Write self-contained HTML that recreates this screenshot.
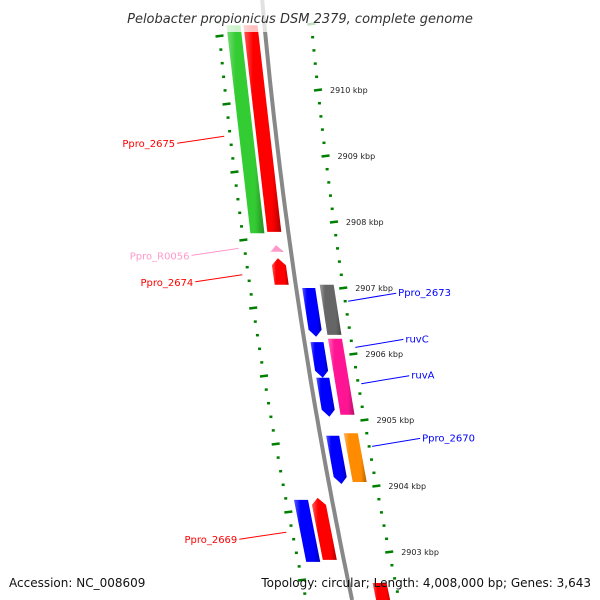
<!DOCTYPE html>
<html><head><meta charset="utf-8"><style>
body{margin:0;background:#fff;}
svg{display:block;font-family:"DejaVu Sans","Liberation Sans",sans-serif;}
</style></head><body>
<svg id="map" width="600" height="600" viewBox="0 0 600 600">
<defs>
<linearGradient id="shade" x1="0" x2="1" y1="0" y2="0">
<stop offset="0" stop-color="#fff" stop-opacity="0.35"/><stop offset="0.25" stop-color="#fff" stop-opacity="0"/>
<stop offset="0.75" stop-color="#000" stop-opacity="0"/><stop offset="1" stop-color="#000" stop-opacity="0.3"/>
</linearGradient>
</defs>
<g id="ticks"></g>
<g id="genes"></g>
<g id="labels"></g>
<rect x="0" y="0" width="600" height="32" fill="#fff" opacity="0.75"/>
<text x="300" y="23" text-anchor="middle" font-size="13" font-style="italic" fill="#333">Pelobacter propionicus DSM 2379, complete genome</text>
<text x="9" y="587" font-size="12" fill="#111">Accession: NC_008609</text>
<text x="591" y="587" text-anchor="end" font-size="12" fill="#111">Topology: circular; Length: 4,008,000 bp; Genes: 3,643</text>
</svg>
<script>
const geneNames=["g2675a","Ppro_2675","Ppro_R0056","Ppro_2674","b2673","Ppro_2673","ruvC_b","ruvA_b","ruvC","Ppro_2670b","Ppro_2670","Ppro_2669","r2669","rbot"];
const geneStart=[2910.98,2910.98,2907.65,2907.45,2907.0,2907.05,2906.18,2905.64,2906.23,2904.76,2904.8,2903.79,2903.82,2902.53];
const geneEnd=[2907.83,2907.85,2907.55,2907.05,2906.26,2906.29,2905.64,2905.05,2905.08,2904.03,2904.06,2902.85,2902.88,2902.2];
const geneTrack=[-2,-1,-1,-1,1,2,1,1,2,1,2,-2,-1,2];
const geneColor=["#33cc33","#ff0000","#ff99cc","#ff0000","#0000ff","#666666","#0000ff","#0000ff","#ff1493","#0000ff","#ff8c00","#0000ff","#ff0000","#ff0000"];
const geneArrow=[0,0,1,1,-1,0,-1,-1,0,-1,0,0,1,0];
const tickKbp=[2910,2909,2908,2907,2906,2905,2904,2903];
const labelText=["Ppro_2675","Ppro_R0056","Ppro_2674","Ppro_2673","ruvC","ruvA","Ppro_2670","Ppro_2669"];
const labelKbp=[2909.3,2907.6,2907.2,2906.8,2906.1,2905.55,2904.6,2903.3];
const labelSide=[-1,-1,-1,1,1,1,1,-1];
const labelColor=["#ff0000","#ff99cc","#ff0000","#0000ff","#0000ff","#0000ff","#0000ff","#ff0000"];

const NS="http://www.w3.org/2000/svg";
function ky(k){return 90+(2910-k)*66;}
function bx(y){const t=y-20;return 264+0.093*t+0.0001016*t*t;}
function mk(tag,attrs,parent){const e=document.createElementNS(NS,tag);for(const a in attrs)e.setAttribute(a,attrs[a]);parent.appendChild(e);return e;}
const G=document.getElementById('genes'),T=document.getElementById('ticks'),L=document.getElementById('labels');

// backbone
let d="";for(let y=0;y<=600;y+=10){d+=(y?"L":"M")+bx(y).toFixed(1)+" "+y;}
const bb=mk('path',{d:d,stroke:"#888",'stroke-width':4,fill:"none"},G);



const trackOff={"-2":[-38,-24],"-1":[-21,-7],"1":[6,19],"2":[24,38]};
for(let i=0;i<geneNames.length;i++){
  let y0=ky(geneStart[i]),y1=ky(geneEnd[i]);
  const [o0,o1]=trackOff[geneTrack[i]];const om=(o0+o1)/2;
  let pts;
  if(geneArrow[i]===-1){const yb=y1-7;pts=[[bx(y0)+o0,y0],[bx(y0)+o1,y0],[bx(yb)+o1,yb],[bx(y1)+om,y1],[bx(yb)+o0,yb]];}
  else if(geneArrow[i]===1){const yb=y0+7;pts=[[bx(y0)+om,y0],[bx(yb)+o1,yb],[bx(y1)+o1,y1],[bx(y1)+o0,y1],[bx(yb)+o0,yb]];}
  else pts=[[bx(y0)+o0,y0],[bx(y0)+o1,y0],[bx(y1)+o1,y1],[bx(y1)+o0,y1]];
  const p=pts.map(q=>q[0].toFixed(1)+","+q[1].toFixed(1)).join(" ");
  const g=mk('g',{},G);
  
  
  mk('polygon',{points:p,fill:geneColor[i]},g);
  mk('polygon',{points:p,fill:"url(#shade)"},g);
}

// right tick ring
for(let k=2911;k>=2902;k-=0.2){
  const kk=Math.round(k*10)/10;const y=ky(kk);if(y<20||y>600)continue;
  const major=Math.abs(kk-Math.round(kk))<0.01;const x=bx(y)+47;
  const t=mk('line',{x1:x-(major?4:1.5),y1:y+(major?0.5:0),x2:x+(major?4:1.5),y2:y-(major?0.5:0),stroke:"#008000",'stroke-width':2.5},T);
  
  
}
tickKbp.forEach(k=>{const y=ky(k);const t=mk('text',{x:bx(y)+59,y:y+3,'font-size':8,fill:"#222"},T);t.textContent=k+" kbp";
  
  });
// left tick ring
for(let y=36-13.6*2;y<=600;y+=13.6){
  if(y<20)continue;const major=Math.abs(((y-36)/68)-Math.round((y-36)/68))<0.02;const x=bx(y)-46;
  const t=mk('line',{x1:x-(major?4:1.5),y1:y+(major?0.5:0),x2:x+(major?4:1.5),y2:y-(major?0.5:0),stroke:"#008000",'stroke-width':2.5},T);
  
  
}
// labels
for(let i=0;i<labelText.length;i++){
  const y=ky(labelKbp[i]);
  const g=mk('g',{},L);
  
  
  if(labelSide[i]<0){const x1=bx(y)-52;mk('line',{x1:x1,y1:y,x2:x1-47,y2:y+7,stroke:labelColor[i],'stroke-width':1},g);
    const t=mk('text',{x:x1-49,y:y+11,'text-anchor':'end','font-size':10,fill:labelColor[i]},g);t.textContent=labelText[i];}
  else{const x1=bx(y)+50;mk('line',{x1:x1,y1:y,x2:x1+48,y2:y-8,stroke:labelColor[i],'stroke-width':1},g);
    const t=mk('text',{x:x1+50,y:y-5,'font-size':10,fill:labelColor[i]},g);t.textContent=labelText[i];}
}
</script>
</body></html>
